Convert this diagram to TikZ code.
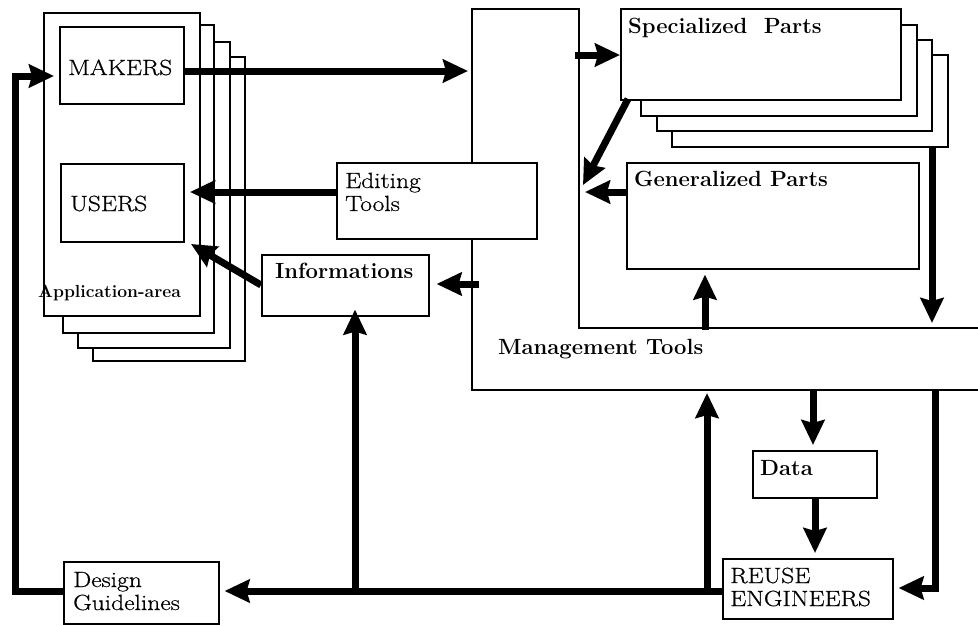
\documentclass[tikz,border=0pt]{standalone}
\usepackage{fontspec}
\setmainfont{Latin Modern Roman}
\newfontfamily\widefont[FakeStretch=1.16,FakeBold=0.6]{Latin Modern Roman}
\usetikzlibrary{arrows.meta}
\begin{document}
\begin{tikzpicture}[x=1pt,y=-1pt,
  frame/.style={draw, line width=1.6pt, fill=white, inner sep=0pt, anchor=north west},
  flow/.style={line width=7pt, -{Stealth[length=25pt,width=23pt,inset=3pt]}},
  lbl/.style={inner sep=0pt, anchor=base west, font=\widefont\fontsize{22}{24}\selectfont},
  lblb/.style={lbl, font=\fontsize{22}{24}\selectfont\bfseries}]
\useasboundingbox (0,0) rectangle (978,625);

% management tools outline, open towards the right
\draw[line width=1.6pt] (978,328) -- (579,328) -- (579,9) -- (472,9) -- (472,390) -- (978,390);
\node[lblb] (mgmtT) at (498,354) {Management Tools};

% application-area stack
\node[frame, minimum width=152, minimum height=304] (app4) at (92,56) {};
\node[frame, minimum width=152, minimum height=306] (app3) at (77,41) {};
\node[frame, minimum width=151, minimum height=308] (app2) at (62,24) {};
\node[frame, minimum width=156, minimum height=303] (app1) at (43,12) {};
\node[frame, minimum width=124, minimum height=77] (makers) at (59,26) {};
\node[frame, minimum width=123, minimum height=78] (users) at (60,163) {};
\node[lbl] (makersT) at (68,75) {MAKERS};
\node[lbl] (usersT) at (70,211) {USERS};
\node[lblb, font=\fontsize{17.5}{19}\selectfont\bfseries] (appT) at (38,297) {Application-area};

% tools and information boxes
\node[frame, minimum width=200, minimum height=76] (edit) at (336,162) {};
\node[lbl] (editT1) at (345,188) {Editing};
\node[lbl] (editT2) at (345,211) {Tools};
\node[frame, minimum width=167, minimum height=61] (info) at (261,254) {};
\node[lblb] (infoT) at (275,278) {Informations};

% specialized parts stack
\node[frame, minimum width=276, minimum height=92] (spec4) at (671,54) {};
\node[frame, minimum width=275, minimum height=91] (spec3) at (656,39) {};
\node[frame, minimum width=276, minimum height=91] (spec2) at (640,24) {};
\node[frame, minimum width=280, minimum height=91] (spec1) at (620,8) {};
\node[lblb] (specT) at (628,33) {Specialized\ \ Parts};

\node[frame, minimum width=292, minimum height=106] (gen) at (626,162) {};
\node[lblb] (genT) at (634,186) {Generalized Parts};

% data and engineers
\node[frame, minimum width=124, minimum height=47] (data) at (752,450) {};
\node[lblb] (dataT) at (760,475) {Data};
\node[frame, minimum width=170, minimum height=60] (reuse) at (722,558) {};
\node[lbl] (reuseT1) at (730,583) {REUSE};
\node[lbl] (reuseT2) at (730,606) {ENGINEERS};

\node[frame, minimum width=155, minimum height=62] (design) at (63,561) {};
\node[lbl] (designT1) at (73,587) {Design};
\node[lbl] (designT2) at (73,610) {Guidelines};

% connector end points
\coordinate (mgL) at (468,71);
\coordinate (mgInfo) at (479,284);
\coordinate (mgSpec) at (575,55);
\coordinate (mgTop) at (705,330);
\coordinate (mgTopR) at (932,323);
\coordinate (mgBotD) at (813,390);
\coordinate (mgBotR) at (935,390);
\coordinate (mgBotL) at (707,393);
\coordinate (colIn) at (583,185);
\coordinate (colIn2) at (585,192);
\coordinate (loopB) at (15,591);
\coordinate (loopT) at (15,76);
\coordinate (bus1) at (355,591);
\coordinate (bus2) at (707,591);

% connectors
\draw[flow] (makers.east |- mgL) -- (mgL);
\draw[flow] (design.west |- loopB) -- (loopB) -- (loopT) -- (54,76);
\draw[flow] (edit.west |- 0,192) -- (190,192);
\draw[flow] (261,285) -- (191,244);
\draw[flow] (mgInfo) -- ([xshift=7pt]info.east |- mgInfo);
\draw[flow] (mgSpec) -- (spec1.west |- mgSpec);
\draw[flow] (628,99) -- (colIn);
\draw[flow] (gen.west |- colIn2) -- (colIn2);
\draw[flow] (mgTop) -- ([yshift=-5pt]gen.south -| mgTop);
\draw[flow] (spec4.south -| mgTopR) -- (mgTopR);
\draw[flow] (mgBotD) -- ([yshift=5pt]data.north -| mgBotD);
\draw[flow] (data.south -| 815,0) -- ([yshift=5pt]reuse.north -| 815,0);
\draw[flow] (mgBotR) -- (935,588) -- ([xshift=5pt]reuse.east |- 0,588);
\draw[flow] (reuse.west |- bus2) -- ([xshift=5pt]design.east |- bus2);
\draw[flow] (bus1) -- ([yshift=7pt]info.south -| bus1);
\draw[flow] (bus2) -- (mgBotL);
\end{tikzpicture}
\end{document}
